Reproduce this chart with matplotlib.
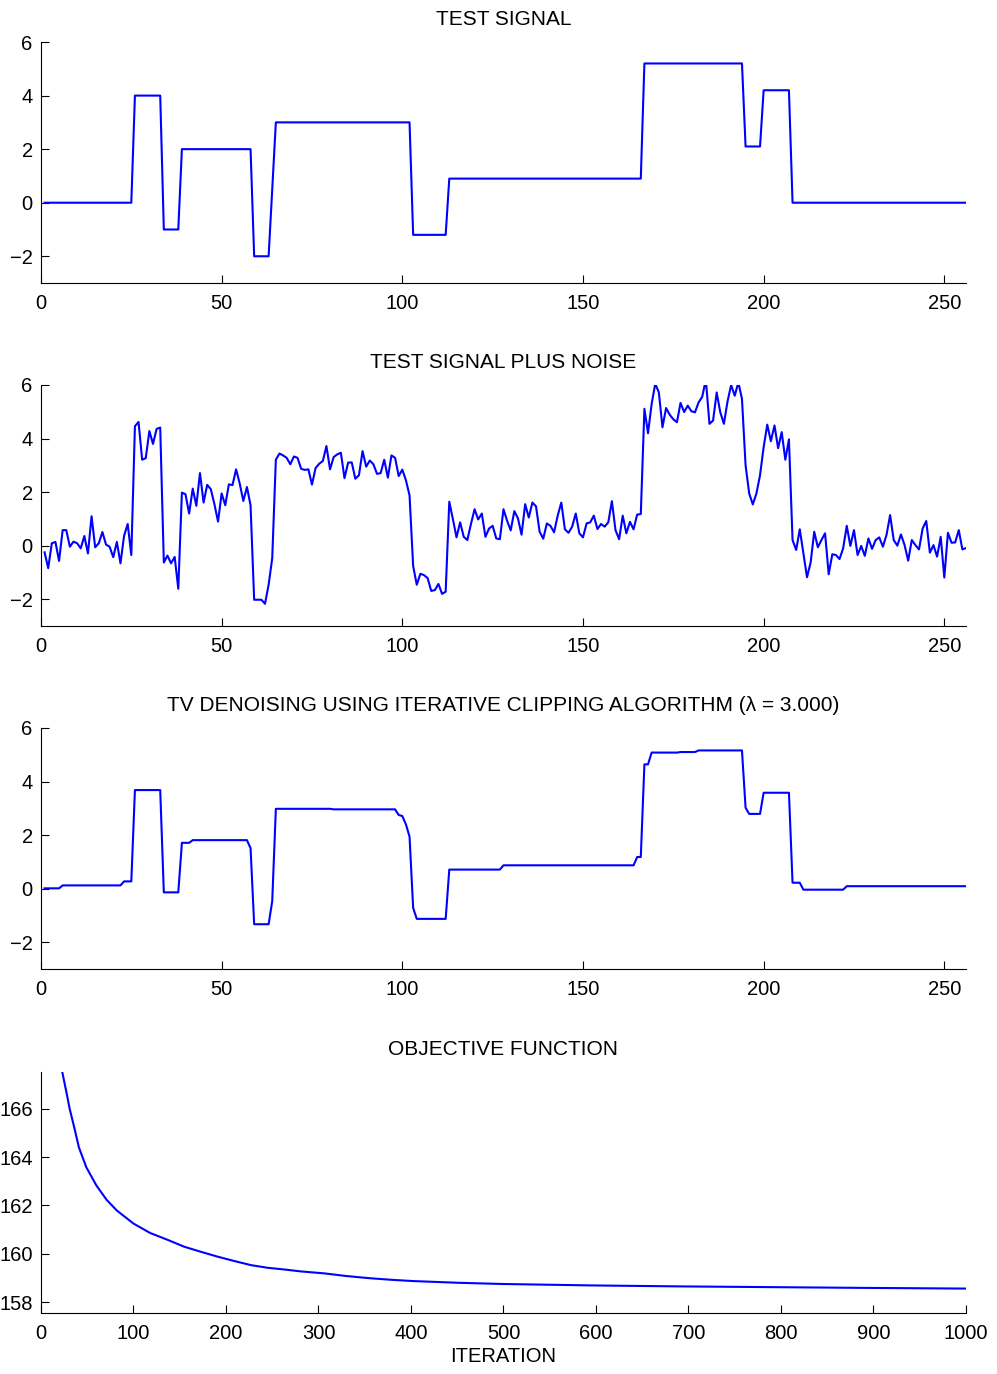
import matplotlib
matplotlib.use("Agg")
import matplotlib.pyplot as plt
import numpy as np

plt.rcParams['font.family'] = ['Liberation Sans', 'DejaVu Sans']
plt.rcParams['font.size'] = 14.5

# Test signal (piecewise constant): level of each block and its length in samples
niveles_senal = [0, 4, -1, 2, -2, 0.5, 3, -1.2, 0.9, 5.2, 2.1, 4.2, 0]
largos_senal = [25, 8, 5, 20, 5, 1, 38, 10, 54, 28, 5, 8, 49]

# Test signal plus noise, samples 1..256
ruidosa = [
    -0.25, -0.84, 0.09, 0.14, -0.57, 0.58, 0.58, -0.04, 0.15, 0.09,
    -0.10, 0.36, -0.29, 1.10, -0.06, 0.09, 0.51, 0.04, -0.04, -0.43,
    0.14, -0.66, 0.37, 0.81, -0.35, 4.46, 4.62, 3.21, 3.27, 4.28,
    3.80, 4.36, 4.41, -0.63, -0.37, -0.66, -0.42, -1.61, 1.98, 1.92,
    1.20, 2.13, 1.49, 2.71, 1.61, 2.27, 2.11, 1.55, 0.90, 1.95,
    1.51, 2.29, 2.26, 2.85, 2.32, 1.67, 2.19, 1.51, -2.02, -2.02,
    -2.02, -2.17, -1.46, -0.47, 3.21, 3.44, 3.37, 3.28, 3.04, 3.33,
    3.28, 2.87, 2.83, 2.85, 2.28, 2.90, 3.06, 3.16, 3.72, 2.85,
    3.31, 3.41, 3.47, 2.52, 3.10, 3.11, 2.50, 2.63, 3.53, 2.95,
    3.18, 3.04, 2.68, 2.71, 3.21, 2.54, 3.37, 3.28, 2.60, 2.84,
    2.44, 1.88, -0.76, -1.46, -1.05, -1.10, -1.21, -1.69, -1.66, -1.43,
    -1.80, -1.72, 1.64, 0.99, 0.31, 0.87, 0.33, 0.21, 0.81, 1.36,
    0.98, 1.20, 0.33, 0.64, 0.74, 0.27, 0.24, 1.36, 0.93, 0.57,
    1.29, 1.02, 0.41, 1.55, 1.05, 1.61, 1.47, 0.52, 0.26, 0.83,
    0.74, 0.50, 1.12, 1.61, 0.61, 0.48, 0.71, 1.20, 0.46, 0.31,
    0.83, 0.87, 1.12, 0.62, 0.81, 0.71, 0.87, 1.66, 0.58, 0.24,
    1.12, 0.46, 0.89, 0.61, 1.16, 1.18, 5.11, 4.20, 5.29, 6.05,
    5.72, 4.42, 5.14, 4.89, 4.72, 4.61, 5.33, 4.99, 5.23, 5.02,
    4.98, 5.35, 5.56, 6.20, 4.55, 4.67, 5.72, 4.98, 4.55, 5.38,
    6.00, 5.60, 6.10, 5.48, 3.00, 1.95, 1.54, 1.95, 2.63, 3.68,
    4.52, 3.90, 4.49, 3.64, 4.24, 3.21, 3.97, 0.21, -0.16, 0.61,
    -0.29, -1.18, -0.63, 0.52, -0.06, 0.21, 0.46, -1.07, -0.32, -0.35,
    -0.50, -0.10, 0.74, -0.01, 0.58, -0.35, -0.01, -0.38, 0.27, -0.12,
    0.21, 0.31, -0.04, 0.40, 1.14, 0.21, 0.00, 0.42, 0.02, -0.56,
    0.21, 0.02, -0.14, 0.64, 0.92, -0.26, 0.02, -0.41, 0.33, -1.19,
    0.48, 0.11, 0.12, 0.58, -0.14, -0.09,
]

# TV denoised output: level of each run and its length
niveles_tv = [0.01, 0.12, 0.27, 3.68, -0.14, 1.71, 1.81, 1.51, -1.33, -0.47,
              2.98, 2.96, 2.75, 2.71, 2.40, 1.94, -0.72, -1.13, 0.71, 0.87,
              1.18, 4.64, 5.08, 5.10, 5.16, 3.02, 2.79, 3.58, 0.22, -0.04, 0.09]
largos_tv = [5, 17, 3, 8, 5, 3, 16, 1, 5, 1,
             16, 18, 1, 1, 1, 1, 1, 9, 15, 37,
             2, 2, 8, 5, 13, 1, 4, 8, 3, 12, 34]

# Objective function against iteration
iteraciones = [20, 23, 28, 31, 36, 41, 49, 60, 71, 82, 100, 118, 136, 155,
               173, 191, 209, 227, 245, 263, 281, 306, 330, 355, 380, 403,
               451, 499, 596, 692, 789, 885, 1000]
objetivo = [168.1, 167.52, 166.59, 166.0, 165.22, 164.40, 163.58, 162.82,
            162.23, 161.79, 161.25, 160.86, 160.59, 160.29, 160.08, 159.88,
            159.70, 159.53, 159.42, 159.35, 159.27, 159.19, 159.08, 158.99,
            158.92, 158.87, 158.80, 158.75, 158.69, 158.65, 158.62, 158.59,
            158.56]

n = np.arange(1, 257)
senal = np.repeat(niveles_senal, largos_senal)
denoised = np.repeat(niveles_tv, largos_tv)


def preparar_ejes(ax, titulo):
    ax.spines['top'].set_visible(False)
    ax.spines['right'].set_visible(False)
    for lado in ['left', 'bottom']:
        ax.spines[lado].set_linewidth(0.8)
    ax.tick_params(direction='in', length=6, width=0.8, pad=6)
    ax.tick_params(axis='x', pad=8)
    ax.set_title(titulo, fontsize=15, pad=12)


fig = plt.figure(figsize=(9.97, 13.74), dpi=100)

izq, ancho, alto = 0.0411, 0.9278, 0.1754
bases = [0.794, 0.5444, 0.2948, 0.0444]

titulos = ['TEST SIGNAL', 'TEST SIGNAL PLUS NOISE',
           'TV DENOISING USING ITERATIVE CLIPPING ALGORITHM (\u03bb = 3.000)']
series = [senal, ruidosa, denoised]

for base, titulo, y in zip(bases[:3], titulos, series):
    ax = fig.add_axes([izq, base, ancho, alto])
    ax.plot(n, y, color='blue', linewidth=1.5)
    ax.set_xlim(0, 256)
    ax.set_ylim(-3, 6)
    ax.set_xticks([0, 50, 100, 150, 200, 250])
    ax.set_yticks([-2, 0, 2, 4, 6])
    ax.set_yticklabels(['\u22122', '0', '2', '4', '6'])
    preparar_ejes(ax, titulo)

ax = fig.add_axes([izq, bases[3], ancho, alto])
ax.plot(iteraciones, objetivo, color='blue', linewidth=1.5)
ax.set_xlim(0, 1000)
ax.set_ylim(157.55, 167.52)
ax.set_xticks(range(0, 1001, 100))
ax.set_yticks([158, 160, 162, 164, 166])
preparar_ejes(ax, 'OBJECTIVE FUNCTION')
ax.set_xlabel('ITERATION', fontsize=14.5, labelpad=3)

fig.savefig('out.png', dpi=100)
